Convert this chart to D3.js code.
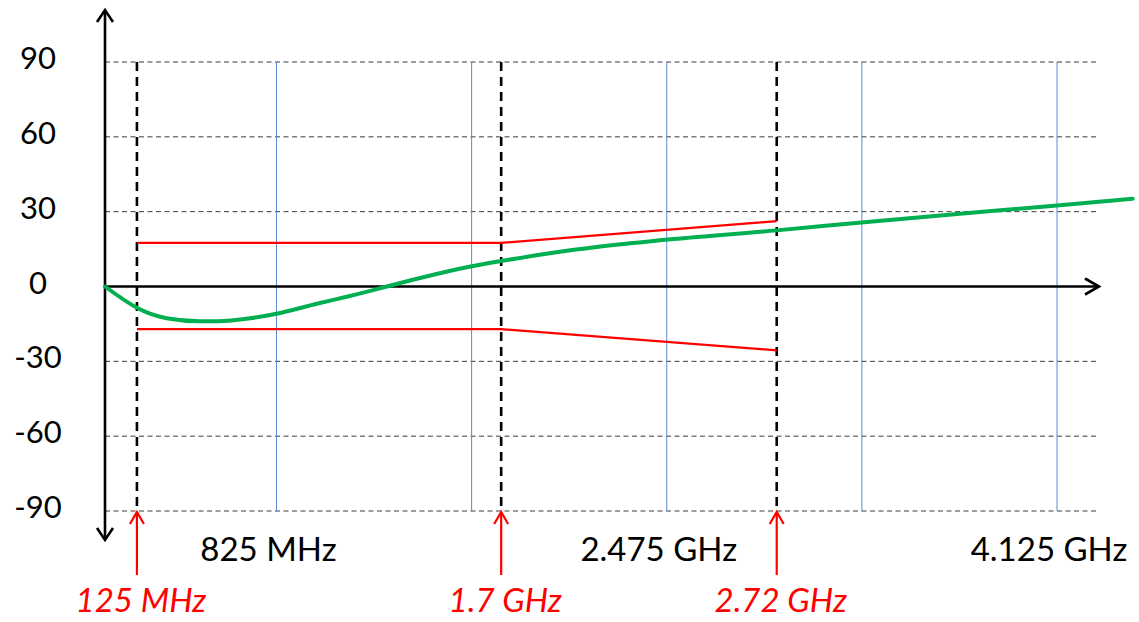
<!DOCTYPE html>
<html>
<head>
<meta charset="utf-8">
<script src="https://cdn.jsdelivr.net/npm/d3@7"></script>
<style>
  html, body { margin: 0; padding: 0; background: #ffffff; }
  svg { display: block; }
  text { font-family: Lato, "Open Sans", "DejaVu Sans", sans-serif; }
</style>
</head>
<body>
<svg id="chart" width="1139" height="622"></svg>
<script>
// ---------- data ----------
const yTicks = [-90, -60, -30, 0, 30, 60, 90];
const gridFreqs = [825, 1650, 2475, 3300, 4125];          // MHz, blue vertical grid
const xLabelFreqs = [825, 2475, 4125];
const xLabels = ["825 MHz", "2.475 GHz", "4.125 GHz"];
const markerPos = [235, 1775, 2940];                       // where markers sit on the (schematic) axis, MHz units
const markerLabels = ["125 MHz", "1.7 GHz", "2.72 GHz"];
const maskFreq = [235, 1775, 2940];
const maskUpper = [17.5, 17.5, 26.2];
const maskLower = [-17.1, -17.1, -25.6];
const curveFreq = [100, 235, 290, 360, 500, 575, 715, 825, 1000, 1135, 1292, 1432, 1640, 1775, 1980, 2195, 2500, 2940, 3310, 4125, 4445];
const curvePhase = [0, -8.5, -10.9, -12.7, -13.9, -13.9, -12.7, -10.9, -6.8, -3.8, 0, 3.4, 7.9, 10.2, 13.3, 16.0, 19.0, 22.5, 25.8, 32.5, 35.2];

// ---------- layout ----------
const svg = d3.select("#chart");
const x = d3.scaleLinear().domain([100, 4125]).range([105, 1057]);
const y = d3.scaleLinear().domain([-90, 90]).range([511, 62]);
const x0 = x.range()[0];
const xEnd = 1099;
const yTop = 10, yBottom = 540;

// horizontal dashed grid
svg.append("g").selectAll("line")
  .data(yTicks.filter(d => d !== 0))
  .join("line")
  .attr("x1", x0).attr("x2", xEnd)
  .attr("y1", d => y(d)).attr("y2", d => y(d))
  .attr("stroke", "#3a3a3a").attr("stroke-width", 1)
  .attr("stroke-dasharray", "5,3.5");

// blue vertical grid
svg.append("g").selectAll("line")
  .data(gridFreqs)
  .join("line")
  .attr("x1", d => x(d)).attr("x2", d => x(d))
  .attr("y1", y(90)).attr("y2", y(-90))
  .attr("stroke", "#5b8bd3").attr("stroke-width", 1);

// black dashed marker lines
svg.append("g").selectAll("line")
  .data(markerPos)
  .join("line")
  .attr("x1", d => x(d)).attr("x2", d => x(d))
  .attr("y1", y(90)).attr("y2", y(-90))
  .attr("stroke", "#000").attr("stroke-width", 2.6)
  .attr("stroke-dasharray", "9,6");

// axes
const axisG = svg.append("g").attr("stroke", "#000").attr("fill", "none")
  .attr("stroke-width", 2.6).attr("stroke-linejoin", "miter");
axisG.append("line").attr("x1", x0).attr("x2", x0).attr("y1", yTop + 1).attr("y2", yBottom - 1);
axisG.append("path").attr("d", `M${x0 - 8},${yTop + 12} L${x0},${yTop} L${x0 + 8},${yTop + 12}`);
axisG.append("path").attr("d", `M${x0 - 8},${yBottom - 12} L${x0},${yBottom} L${x0 + 8},${yBottom - 12}`);
axisG.append("line").attr("x1", x0).attr("x2", xEnd - 1).attr("y1", y(0)).attr("y2", y(0));
axisG.append("path").attr("d", `M${xEnd - 14},${y(0) - 8} L${xEnd},${y(0)} L${xEnd - 14},${y(0) + 8}`);

// red mask lines
const maskLine = d3.line().x((d, i) => x(maskFreq[i])).y(d => y(d));
[maskUpper, maskLower].forEach(arr => {
  svg.append("path").datum(arr)
    .attr("d", maskLine)
    .attr("fill", "none").attr("stroke", "#ff0000").attr("stroke-width", 2.2);
});

// green curve
const pts = curveFreq.map((f, i) => [f, curvePhase[i]]);
svg.append("path").datum(pts)
  .attr("d", d3.line().x(d => x(d[0])).y(d => y(d[1])).curve(d3.curveMonotoneX))
  .attr("fill", "none").attr("stroke", "#00b050").attr("stroke-width", 4)
  .attr("stroke-linecap", "round");

// y tick labels
svg.append("g").selectAll("text")
  .data(yTicks)
  .join("text")
  .attr("x", 38).attr("y", d => y(d) + 7)
  .attr("text-anchor", "middle")
  .attr("font-size", 31).attr("fill", "#000")
  .text(d => d);

// x labels
svg.append("g").selectAll("text")
  .data(xLabelFreqs)
  .join("text")
  .attr("x", d => x(d) - 8).attr("y", 561)
  .attr("text-anchor", "middle")
  .attr("font-size", 33).attr("fill", "#000")
  .text((d, i) => xLabels[i]);

// red marker arrows
const arrG = svg.append("g").attr("stroke", "#ff0000").attr("fill", "none").attr("stroke-width", 2.2);
arrG.selectAll("line").data(markerPos).join("line")
  .attr("x1", d => x(d)).attr("x2", d => x(d))
  .attr("y1", y(-90) + 1).attr("y2", 575);
arrG.selectAll("path").data(markerPos).join("path")
  .attr("d", d => `M${x(d) - 7},${y(-90) + 13} L${x(d)},${y(-90) + 1} L${x(d) + 7},${y(-90) + 13}`);

svg.append("g").selectAll("text")
  .data(markerPos)
  .join("text")
  .attr("x", d => x(d) + 4).attr("y", 612)
  .attr("text-anchor", "middle")
  .attr("font-size", 33).attr("font-style", "italic").attr("fill", "#ff0000")
  .text((d, i) => markerLabels[i]);
</script>
</body>
</html>
